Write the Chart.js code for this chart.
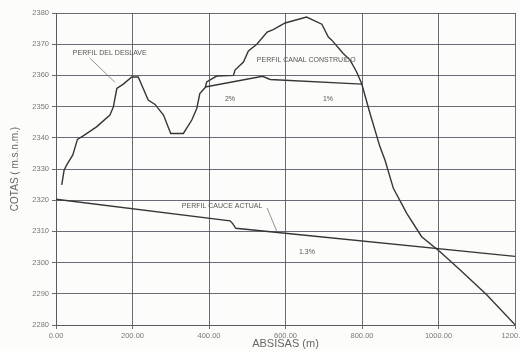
<!DOCTYPE html>
<html>
<head>
<meta charset="utf-8">
<script src="https://cdn.jsdelivr.net/npm/chart.js@4/dist/chart.umd.min.js"></script>
<style>
  html, body { margin: 0; padding: 0; background: #fcfcfa; }
  #wrap { width: 520px; height: 351px; }
</style>
</head>
<body>
<div id="wrap"><canvas id="c" width="520" height="351"></canvas></div>
<script>
// Perfil del deslave (x = abscisa m, y = cota m.s.n.m.)
const deslaveX = [15, 21, 28, 44, 56, 71, 106, 141, 150, 159, 176, 198, 215, 241, 259, 281, 300, 333, 355, 368, 376, 390, 394, 420, 464, 468, 490, 503, 525, 552, 568, 599, 655, 695, 712, 721, 751, 769, 786, 799, 821, 847, 860, 882, 917, 956, 1004, 1056, 1126, 1200];
const deslaveY = [2324.9, 2329.5, 2331.3, 2334.5, 2339.5, 2340.6, 2343.5, 2347.3, 2349.9, 2355.8, 2357.2, 2359.5, 2359.5, 2352.1, 2350.7, 2347.3, 2341.4, 2341.4, 2345.7, 2349.4, 2354.2, 2356.1, 2357.9, 2359.8, 2360.0, 2361.7, 2364.3, 2367.8, 2370.0, 2373.9, 2374.7, 2376.8, 2378.7, 2376.4, 2372.3, 2371.3, 2367.0, 2364.9, 2361.1, 2357.4, 2347.8, 2337.1, 2332.9, 2323.8, 2315.8, 2308.3, 2303.5, 2297.7, 2289.7, 2280.1];
// Perfil canal construido
const canalX = [390, 540, 560, 800];
const canalY = [2356.3, 2359.7, 2358.7, 2357.2];
// Perfil cauce actual
const cauceX = [0, 455, 462, 470, 1200];
const cauceY = [2320.3, 2313.4, 2312.5, 2311.0, 2302.0];

// Axis ticks
const xTicks = [0, 200, 400, 600, 800, 1000, 1200];
const yTicks = [2280, 2290, 2300, 2310, 2320, 2330, 2340, 2350, 2360, 2370, 2380];

// Annotations (text, x, y, align)
const labelText = ["PERFIL DEL DESLAVE", "PERFIL CANAL CONSTRUIDO", "2%", "1%", "PERFIL CAUCE ACTUAL", "1.3%"];
const labelX = [44, 525, 455, 711, 329, 656];
const labelY = [2367.1, 2364.9, 2352.4, 2352.4, 2318.2, 2303.4];
const labelAlign = ["left", "left", "center", "center", "left", "center"];
// Leader lines [x1, y1, x2, y2]
const leaders = [[89, 2365.5, 154, 2357.8], [552, 2317.5, 578, 2309.8]];

const toPts = (xs, ys) => xs.map((x, i) => ({x: x, y: ys[i]}));
const lineColor = '#363636';

const annot = {
  id: 'annot',
  afterDatasetsDraw(chart) {
    const ctx = chart.ctx, xs = chart.scales.x, ys = chart.scales.y;
    ctx.save();
    ctx.fillStyle = '#555';
    ctx.font = '7px "Liberation Sans", Arial, sans-serif';
    ctx.textBaseline = 'middle';
    labelText.forEach((t, i) => {
      ctx.textAlign = labelAlign[i];
      ctx.fillText(t, xs.getPixelForValue(labelX[i]), ys.getPixelForValue(labelY[i]));
    });
    ctx.strokeStyle = '#777';
    ctx.lineWidth = 0.8;
    leaders.forEach(l => {
      ctx.beginPath();
      ctx.moveTo(xs.getPixelForValue(l[0]), ys.getPixelForValue(l[1]));
      ctx.lineTo(xs.getPixelForValue(l[2]), ys.getPixelForValue(l[3]));
      ctx.stroke();
    });
    ctx.restore();
  }
};

const bg = {
  id: 'bg',
  beforeDraw(chart) {
    const ctx = chart.ctx;
    ctx.save();
    ctx.fillStyle = '#fcfcfa';
    ctx.fillRect(0, 0, chart.width, chart.height);
    ctx.restore();
  }
};

const ds = (pts) => ({
  data: pts, showLine: true, borderColor: lineColor, borderWidth: 1.4,
  pointRadius: 0, tension: 0, fill: false
});

new Chart(document.getElementById('c'), {
  type: 'scatter',
  data: {
    datasets: [
      ds(toPts(deslaveX, deslaveY)),
      ds(toPts(canalX, canalY)),
      ds(toPts(cauceX, cauceY))
    ]
  },
  options: {
    responsive: false,
    animation: false,
    devicePixelRatio: 1,
    layout: { padding: { top: 13, right: 5, bottom: 0, left: 0 } },
    plugins: { legend: { display: false }, tooltip: { enabled: false } },
    scales: {
      x: {
        type: 'linear', min: 0, max: 1200,
        afterBuildTicks: s => { s.ticks = xTicks.map(v => ({value: v})); },
        afterFit: s => { s.height = 26; s.paddingLeft = 0; s.paddingRight = 0; },
        ticks: {
          color: '#777', font: { size: 7.5, family: '"Liberation Sans", Arial, sans-serif' },
          padding: 2, maxRotation: 0, autoSkip: false,
          callback: v => Number(v).toFixed(2)
        },
        grid: { color: '#5a5a66', lineWidth: 0.9, tickLength: 4 },
        border: { color: '#5a5a66', width: 1 },
        title: {
          display: true, text: 'ABSISAS (m)', color: '#666',
          font: { size: 11, family: '"Liberation Sans", Arial, sans-serif' },
          padding: { top: 0, bottom: 0 }
        }
      },
      y: {
        min: 2280, max: 2380,
        afterBuildTicks: s => { s.ticks = yTicks.map(v => ({value: v})); },
        afterFit: s => { s.width = 56; s.paddingTop = 0; s.paddingBottom = 0; },
        ticks: {
          color: '#777', font: { size: 7.5, family: '"Liberation Sans", Arial, sans-serif' },
          padding: 3, autoSkip: false,
          callback: v => String(v)
        },
        grid: { color: '#5a5a66', lineWidth: 0.9, tickLength: 4 },
        border: { color: '#5a5a66', width: 1 },
        title: {
          display: true, text: 'COTAS ( m.s.n.m.)', color: '#666',
          font: { size: 10, family: '"Liberation Sans", Arial, sans-serif' },
          padding: { top: 9, bottom: 0 }
        }
      }
    }
  },
  plugins: [bg, annot]
});
</script>
</body>
</html>
